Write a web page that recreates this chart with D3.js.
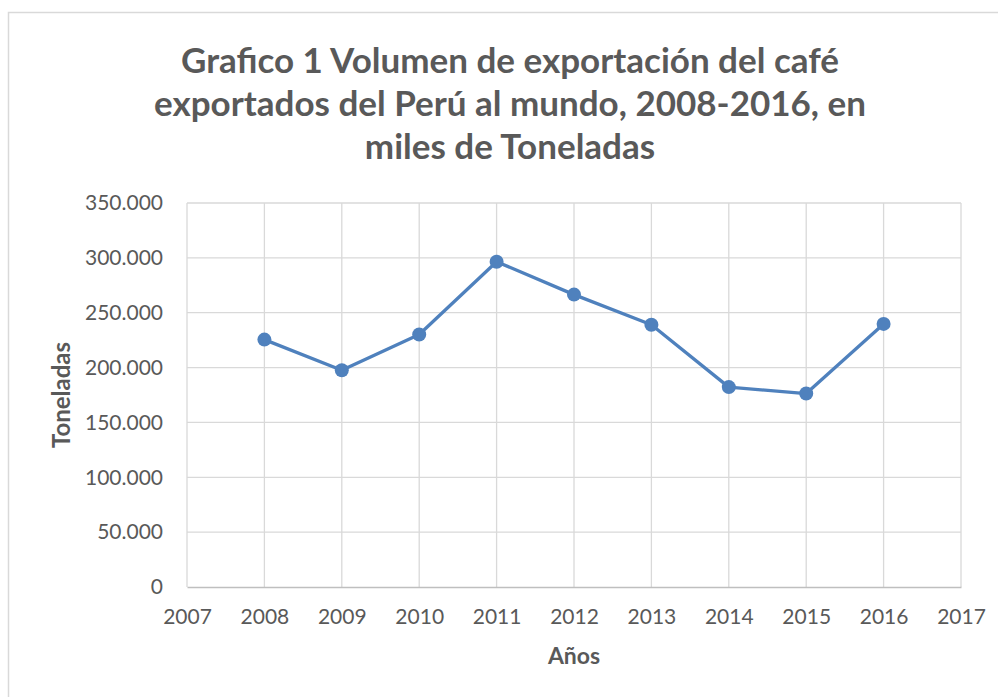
<!DOCTYPE html>
<html>
<head>
<meta charset="utf-8">
<script src="https://cdn.jsdelivr.net/npm/d3@7"></script>
<style>
  html, body { margin: 0; padding: 0; background: #fff; }
  svg { display: block; }
  text { font-family: Lato, 'Open Sans', sans-serif; fill: #595959; }
</style>
</head>
<body>
<div id="chart"></div>
<script>
// data (thousand tonnes)
const years = [2008, 2009, 2010, 2011, 2012, 2013, 2014, 2015, 2016]
const volumes = [225.5, 197.5, 230.2, 296.5, 266.5, 239.0, 182.2, 176.3, 239.8]
const yTicks = [0, 50, 100, 150, 200, 250, 300, 350]
const xTicks = [2007, 2008, 2009, 2010, 2011, 2012, 2013, 2014, 2015, 2016, 2017]
const titleLines = [
  'Grafico 1 Volumen de exportación del café',
  'exportados del Perú al mundo, 2008-2016, en',
  'miles de Toneladas'
]

const W = 998
const H = 697
const margin = { top: 203, right: 37, bottom: 110, left: 187 }
const width = W - margin.left - margin.right
const height = H - margin.top - margin.bottom

const svg = d3.select('#chart')
  .append('svg')
  .attr('width', W)
  .attr('height', H)

// outer chart border (only top and left visible)
svg.append('rect')
  .attr('x', 8.5)
  .attr('y', 12.5)
  .attr('width', W + 20)
  .attr('height', H + 20)
  .attr('fill', 'none')
  .attr('stroke', '#d9d9d9')
  .attr('stroke-width', 1.5)

// title
svg.append('text')
  .attr('text-anchor', 'middle')
  .style('font-size', '35px')
  .style('font-weight', 'bold')
  .selectAll('tspan')
  .data(titleLines)
  .enter()
  .append('tspan')
  .attr('x', 510)
  .attr('y', function (d, i) { return 73 + i * 43 })
  .text(function (d) { return d })

const g = svg.append('g')
  .attr('transform', 'translate(' + margin.left + ',' + margin.top + ')')

const x = d3.scaleLinear()
  .domain([2007, 2017])
  .range([0, width])

const y = d3.scaleLinear()
  .domain([0, 350])
  .range([height, 0])

// horizontal gridlines
g.append('g')
  .selectAll('line')
  .data(yTicks.slice(1))
  .enter()
  .append('line')
  .attr('x1', 0)
  .attr('x2', width)
  .attr('y1', function (d) { return y(d) })
  .attr('y2', function (d) { return y(d) })
  .attr('stroke', '#d9d9d9')
  .attr('stroke-width', 1.3)

// vertical gridlines
g.append('g')
  .selectAll('line')
  .data(xTicks)
  .enter()
  .append('line')
  .attr('x1', function (d) { return x(d) })
  .attr('x2', function (d) { return x(d) })
  .attr('y1', 0)
  .attr('y2', height)
  .attr('stroke', '#d9d9d9')
  .attr('stroke-width', 1.3)

// x axis
const xAxis = g.append('g')
  .attr('transform', 'translate(0,' + height + ')')
  .call(d3.axisBottom(x).tickValues(xTicks).tickFormat(d3.format('d')).tickSize(0).tickPadding(22))
xAxis.select('.domain').attr('stroke', '#bfbfbf').attr('stroke-width', 1.5)
xAxis.selectAll('text').style('font-size', '21px').attr('fill', '#595959')

// y axis
const fmt = function (d) { return d === 0 ? '0' : d3.format('.3f')(d).replace(',', '') }
const yAxis = g.append('g')
  .call(d3.axisLeft(y).tickValues(yTicks).tickFormat(fmt).tickSize(0).tickPadding(24))
yAxis.select('.domain').remove()
yAxis.selectAll('text').style('font-size', '21px').attr('fill', '#595959')

// axis titles
svg.append('text')
  .attr('x', margin.left + width / 2)
  .attr('y', 664)
  .attr('text-anchor', 'middle')
  .style('font-size', '23px')
  .style('font-weight', 'bold')
  .text('Años')

svg.append('text')
  .attr('transform', 'translate(70,' + (margin.top + height / 2) + ') rotate(-90)')
  .attr('text-anchor', 'middle')
  .style('font-size', '24px')
  .style('font-weight', 'bold')
  .text('Toneladas')

// series
const data = years.map(function (d, i) { return { year: d, value: volumes[i] } })

g.append('path')
  .datum(data)
  .attr('fill', 'none')
  .attr('stroke', '#4f81bd')
  .attr('stroke-width', 3.3)
  .attr('stroke-linejoin', 'round')
  .attr('d', d3.line()
    .x(function (d) { return x(d.year) })
    .y(function (d) { return y(d.value) }))

g.selectAll('circle')
  .data(data)
  .enter()
  .append('circle')
  .attr('cx', function (d) { return x(d.year) })
  .attr('cy', function (d) { return y(d.value) })
  .attr('r', 7)
  .attr('fill', '#4f81bd')
</script>
</body>
</html>
